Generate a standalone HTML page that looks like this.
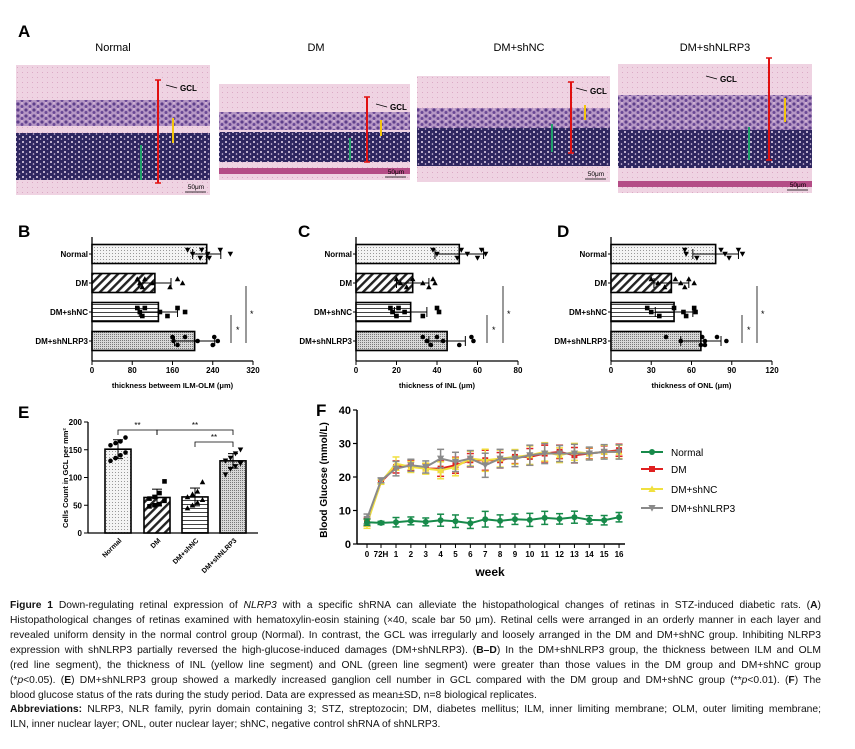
<!DOCTYPE html>
<html><head><meta charset="utf-8">
<style>
html,body{margin:0;padding:0;background:#fff;}
#wrap{position:relative;width:855px;height:749px;overflow:hidden;background:#fff;}
svg text{font-family:"Liberation Sans",sans-serif;}
.cap{position:absolute;left:10px;width:811px;font-family:"Liberation Sans",sans-serif;font-size:10.3px;line-height:15px;text-align:justify;text-align-last:justify;white-space:nowrap;color:#111;}
.cap.last{text-align-last:left;}
</style></head>
<body>
<div id="wrap">
<svg id="fig" width="855" height="749" viewBox="0 0 855 749" xmlns="http://www.w3.org/2000/svg">
<defs>
<pattern id="pDots" width="3" height="3" patternUnits="userSpaceOnUse"><rect width="3" height="3" fill="#f4f4f4"/><rect x="1" y="1" width="1" height="1" fill="#999"/></pattern>
<pattern id="pDense" width="2" height="2" patternUnits="userSpaceOnUse"><rect width="2" height="2" fill="#d8d8d8"/><rect width="1" height="1" fill="#777"/></pattern>
<pattern id="pDiag" width="6" height="6" patternUnits="userSpaceOnUse" patternTransform="rotate(45)"><rect width="6" height="6" fill="#fff"/><rect width="2.4" height="6" fill="#222"/></pattern>
<pattern id="pHor" width="4" height="4" patternUnits="userSpaceOnUse"><rect width="4" height="4" fill="#fff"/><rect y="0" width="4" height="1" fill="#444"/></pattern>
<pattern id="pNuc" width="7" height="5" patternUnits="userSpaceOnUse"><rect width="7" height="5" fill="#2e2660"/><circle cx="2" cy="2" r="1" fill="#e8d8ee"/><circle cx="5.5" cy="4" r="0.8" fill="#ddc8e6"/></pattern>
<pattern id="pInl" width="8" height="6" patternUnits="userSpaceOnUse"><rect width="8" height="6" fill="#b596c4"/><circle cx="2" cy="2" r="1.6" fill="#5e3f8a"/><circle cx="6" cy="4.5" r="1.5" fill="#6a4896"/><circle cx="6" cy="1" r="0.8" fill="#e7c9e0"/></pattern>
<pattern id="pPink" width="5" height="5" patternUnits="userSpaceOnUse"><rect width="5" height="5" fill="#efd3e2"/><rect x="2" y="2" width="1" height="1" fill="#dcaac6"/></pattern>
</defs>
<g id="panelA"></g>
<g id="panelB"></g>
<g id="panelC"></g>
<g id="panelD"></g>
<g id="panelE"></g>
<g id="panelF"></g>
</svg>
<div class="cap" style="top:598px"><b>Figure 1</b> Down-regulating retinal expression of <i>NLRP3</i> with a specific shRNA can alleviate the histopathological changes of retinas in STZ-induced diabetic rats. (<b>A</b>)</div>
<div class="cap" style="top:613px">Histopathological changes of retinas examined with hematoxylin-eosin staining (×40, scale bar 50 μm). Retinal cells were arranged in an orderly manner in each layer and</div>
<div class="cap" style="top:628px">revealed uniform density in the normal control group (Normal). In contrast, the GCL was irregularly and loosely arranged in the DM and DM+shNC group. Inhibiting NLRP3</div>
<div class="cap" style="top:643px">expression with shNLRP3 partially reversed the high-glucose-induced damages (DM+shNLRP3). (<b>B–D</b>) In the DM+shNLRP3 group, the thickness between ILM and OLM</div>
<div class="cap" style="top:658px">(red line segment), the thickness of INL (yellow line segment) and ONL (green line segment) were greater than those values in the DM group and DM+shNC group</div>
<div class="cap" style="top:673px">(*<i>p</i>&lt;0.05). (<b>E</b>) DM+shNLRP3 group showed a markedly increased ganglion cell number in GCL compared with the DM group and DM+shNC group (**<i>p</i>&lt;0.01). (<b>F</b>) The</div>
<div class="cap last" style="top:688px;height:12px;overflow:hidden">blood glucose status of the rats during the study period. Data are expressed as mean±SD, n=8 biological replicates.</div>
<div class="cap" style="top:702px"><b>Abbreviations:</b> NLRP3, NLR family, pyrin domain containing 3; STZ, streptozocin; DM, diabetes mellitus; ILM, inner limiting membrane; OLM, outer limiting membrane;</div>
<div class="cap last" style="top:717px">ILN, inner nuclear layer; ONL, outer nuclear layer; shNC, negative control shRNA of shNLRP3.</div>
</div>
<script>
// ---------- data ----------
const groups = ["Normal","DM","DM+shNC","DM+shNLRP3"];
const bMeans = [228,125,132,204];
const bSD = [28,32,38,40];
const bTicks = [0,80,160,240,320];
const bPoints = [[190,200,215,218,230,233,255,275],[90,95,100,105,120,155,170,180],[90,95,100,105,135,150,170,185],[160,162,170,185,210,240,243,250]];
const cMeans = [51,28,27,45];
const cSD = [12,8,8,9];
const cTicks = [0,20,40,60,80];
const cPoints = [[38,40,50,52,55,60,62,64],[20,22,25,28,33,36,38,39],[17,18,20,21,24,33,40,41],[33,35,37,40,43,51,57,58]];
const dMeans = [78,45,47,67];
const dSD = [17,13,14,15];
const dTicks = [0,30,60,90,120];
const dPoints = [[55,56,64,82,85,88,95,98],[30,35,40,48,52,55,58,62],[27,30,36,47,54,56,62,63],[41,52,67,68,70,70,79,86]];
const eMeans = [151,64,65,130];
const eSD = [17,15,16,13];
const eTicks = [0,50,100,150,200];
const ePoints = [[130,135,140,145,158,162,165,172],[48,50,52,58,62,65,72,93],[45,50,55,60,65,70,75,92],[105,115,120,125,130,135,143,150]];
const fCats = ["0","72H","1","2","3","4","5","6","7","8","9","10","11","12","13","14","15","16"];
const fTicks = [0,10,20,30,40];
const fNames = ["Normal","DM","DM+shNC","DM+shNLRP3"];
const fNormal = [6.5,6.3,6.5,6.9,6.6,7.1,6.8,6.2,7.4,6.9,7.4,7.2,7.8,7.5,8.0,7.2,7.1,8.0];
const fDM = [6.5,18.5,23,23.5,22.5,22.5,23.5,25,25,25,26,26,27,27.5,26.5,27,27.5,28];
const fShNC = [6,18.5,24,23,22.5,22,23,25.5,25,25.5,26,26.5,27.5,26.5,27.5,27,27.5,27.5];
const fShNLRP3 = [7.5,19,22.5,23.5,23,25.5,24.5,25.5,23.5,25.5,25.5,26.5,27,27,27,27,27.5,27.5];
const fErr = [1.2,0.6,1.8,1.5,1.5,2.3,2.4,2.0,3.0,2.3,2.0,2.5,2.5,2.0,2.3,1.6,1.8,1.8];

const NS="http://www.w3.org/2000/svg";
function mk(parent,tag,attrs,txt){const e=document.createElementNS(NS,tag);for(const k in attrs)e.setAttribute(k,attrs[k]);if(txt!==undefined)e.textContent=txt;parent.appendChild(e);return e;}
const fills=["url(#pDots)","url(#pDiag)","url(#pHor)","url(#pDense)"];

// ---------- Panel A ----------
(function(){
 const g=document.getElementById('panelA');
 let t=mk(g,'text',{x:18,y:37,'font-size':17,'font-weight':'bold'},'A');
 
 
 const tiles=[
  {x:16,y:65,w:194,h:130,lab:"Normal",lx:113,inl:[100,126],onl:[133,180],red:[80,183],rx:158,yel:[118,143],yx:173,grn:[145,180],gx:141,gcl:[180,88]},
  {x:219,y:84,w:191,h:96,lab:"DM",lx:316,inl:[112,130],onl:[132,162],red:[97,162],rx:367,yel:[120,136],yx:381,grn:[138,160],gx:350,gcl:[390,107]},
  {x:417,y:76,w:193,h:106,lab:"DM+shNC",lx:519,inl:[108,132],onl:[128,166],red:[82,153],rx:571,yel:[105,120],yx:585,grn:[124,152],gx:552,gcl:[590,91]},
  {x:618,y:64,w:194,h:129,lab:"DM+shNLRP3",lx:715,inl:[95,130],onl:[130,168],red:[58,160],rx:769,yel:[98,122],yx:785,grn:[127,160],gx:749,gcl:[720,79]}
 ];
 tiles.forEach((T,i)=>{
  const tg=mk(g,'g',{});
  
  
  let l=mk(tg,'text',{x:T.lx,y:51,'font-size':11,'text-anchor':'middle'},T.lab);
  
  
  mk(tg,'rect',{x:T.x,y:T.y,width:T.w,height:T.h,fill:'url(#pPink)'});
  mk(tg,'rect',{x:T.x,y:T.inl[0],width:T.w,height:T.inl[1]-T.inl[0],fill:'url(#pInl)'});
  mk(tg,'rect',{x:T.x,y:T.onl[0],width:T.w,height:T.onl[1]-T.onl[0],fill:'url(#pNuc)'});
  if(i===1||i===3){mk(tg,'rect',{x:T.x,y:T.y+T.h-12,width:T.w,height:6,fill:'#b44c86'});}
  mk(tg,'line',{x1:T.rx,x2:T.rx,y1:T.red[0],y2:T.red[1],stroke:'#e01010','stroke-width':2});
  mk(tg,'line',{x1:T.rx-3,x2:T.rx+3,y1:T.red[0],y2:T.red[0],stroke:'#e01010','stroke-width':1.5});
  mk(tg,'line',{x1:T.rx-3,x2:T.rx+3,y1:T.red[1],y2:T.red[1],stroke:'#e01010','stroke-width':1.5});
  mk(tg,'line',{x1:T.yx,x2:T.yx,y1:T.yel[0],y2:T.yel[1],stroke:'#f2c40c','stroke-width':2});
  mk(tg,'line',{x1:T.gx,x2:T.gx,y1:T.grn[0],y2:T.grn[1],stroke:'#1fa06a','stroke-width':2});
  mk(tg,'line',{x1:T.gcl[0]-14,x2:T.gcl[0]-3,y1:T.gcl[1]-3,y2:T.gcl[1],stroke:'#000','stroke-width':0.8});
  mk(tg,'text',{x:T.gcl[0],y:T.gcl[1]+3,'font-size':8,'font-weight':'bold'},'GCL');
  mk(tg,'line',{x1:T.x+T.w-25,x2:T.x+T.w-4,y1:T.y+T.h-3,y2:T.y+T.h-3,stroke:'#000','stroke-width':0.8});
  mk(tg,'text',{x:T.x+T.w-14,y:T.y+T.h-6,'font-size':6.5,'text-anchor':'middle','font-family':'Liberation Serif'},'50μm');
 });
})();

// ---------- Horizontal bar panels ----------
function hbar(id,letter,lx,ly,x0,x1,maxV,ticks,means,sds,pts,title,sigX,mk1){
 const g=document.getElementById(id);
 const X=v=>x0+(x1-x0)*v/maxV;
 const cy=[254,283,312,341];
 let t=mk(g,'text',{x:lx,y:ly,'font-size':17,'font-weight':'bold'},letter);
 
 
 const ax=mk(g,'g',{});
 
 
 mk(ax,'line',{x1:x0,x2:x0,y1:237,y2:361,stroke:'#000','stroke-width':1.3});
 mk(ax,'line',{x1:x0,x2:x1,y1:361,y2:361,stroke:'#000','stroke-width':1.3});
 ticks.forEach(v=>{mk(ax,'line',{x1:X(v),x2:X(v),y1:361,y2:365,stroke:'#000','stroke-width':1});
  mk(ax,'text',{x:X(v),y:373,'font-size':8,'font-weight':'bold','text-anchor':'middle'},v);});
 let at=mk(g,'text',{x:(x0+x1)/2,y:388,'font-size':7.5,'font-weight':'bold','text-anchor':'middle'},title);
 
 
 means.forEach((m,i)=>{
  mk(g,'line',{x1:x0-3,x2:x0,y1:cy[i],y2:cy[i],stroke:'#000'});
  let lb=mk(g,'text',{x:x0-4,y:cy[i]+3,'font-size':8,'font-weight':'bold','text-anchor':'end'},groups[i]);
  
  
  let r=mk(g,'rect',{x:x0,y:cy[i]-9.5,width:X(m)-x0,height:19,fill:fills[i],stroke:'#000','stroke-width':1.6});
  
  
  mk(g,'line',{x1:X(m-sds[i]),x2:X(m+sds[i]),y1:cy[i],y2:cy[i],stroke:'#000','stroke-width':1});
  [m-sds[i],m+sds[i]].forEach(v=>mk(g,'line',{x1:X(v),x2:X(v),y1:cy[i]-5,y2:cy[i]+5,stroke:'#000','stroke-width':1}));
  pts[i].forEach((v,j)=>{
   const py=cy[i]+((j%3)-1)*4;
   const p=marker(g,mk1[i],X(v),py,2.3,'#000');
   
   
  });
 });
 mk(g,'line',{x1:sigX[0],x2:sigX[0],y1:315,y2:343,stroke:'#000','stroke-width':0.8});
 mk(g,'text',{x:sigX[0]+5,y:333,'font-size':9},'*');
 mk(g,'line',{x1:sigX[1],x2:sigX[1],y1:286,y2:343,stroke:'#000','stroke-width':0.8});
 mk(g,'text',{x:sigX[1]+4,y:317,'font-size':9},'*');
}
function marker(g,type,x,y,r,col){
 if(type==='c')return mk(g,'circle',{cx:x,cy:y,r:r,fill:col});
 if(type==='s')return mk(g,'rect',{x:x-r,y:y-r,width:2*r,height:2*r,fill:col});
 if(type==='u')return mk(g,'polygon',{points:`${x},${y-r*1.2} ${x-r*1.2},${y+r} ${x+r*1.2},${y+r}`,fill:col});
 return mk(g,'polygon',{points:`${x},${y+r*1.2} ${x-r*1.2},${y-r} ${x+r*1.2},${y-r}`,fill:col});
}
const mks=['d','u','s','c'];
hbar('panelB','B',18,237,92,253,320,bTicks,bMeans,bSD,bPoints,'thickness betweem ILM-OLM (μm)',[231,246],mks);
hbar('panelC','C',298,237,356,518,80,cTicks,cMeans,cSD,cPoints,'thickness of INL (μm)',[487,503],mks);
hbar('panelD','D',557,237,611,772,120,dTicks,dMeans,dSD,dPoints,'thickness of ONL (μm)',[742,757],mks);

// ---------- Panel E ----------
(function(){
 const g=document.getElementById('panelE');
 const y0=533,y1=422,x0=88,xe=258;
 const Y=v=>y0-(y0-y1)*v/200;
 const cx=[118,157,195,233];
 let t=mk(g,'text',{x:18,y:418,'font-size':17,'font-weight':'bold'},'E');
 
 
 const ax=mk(g,'g',{});
 
 
 mk(ax,'line',{x1:x0,x2:x0,y1:y1,y2:y0,stroke:'#000','stroke-width':1.3});
 mk(ax,'line',{x1:x0,x2:xe,y1:y0,y2:y0,stroke:'#000','stroke-width':1.3});
 eTicks.forEach(v=>{mk(ax,'line',{x1:x0-4,x2:x0,y1:Y(v),y2:Y(v),stroke:'#000'});
  mk(ax,'text',{x:x0-6,y:Y(v)+3,'font-size':8,'font-weight':'bold','text-anchor':'end'},v);});
 let yt=mk(g,'text',{x:0,y:0,'font-size':7.5,'font-weight':'bold','text-anchor':'middle',transform:'translate(68,478) rotate(-90)'},'Cells Count in GCL per mm²');
 
 
 eMeans.forEach((m,i)=>{
  let r=mk(g,'rect',{x:cx[i]-13,y:Y(m),width:26,height:y0-Y(m),fill:fills[i],stroke:'#000','stroke-width':1.6});
  
  
  mk(g,'line',{x1:cx[i],x2:cx[i],y1:Y(m-eSD[i]),y2:Y(m+eSD[i]),stroke:'#000'});
  [m-eSD[i],m+eSD[i]].forEach(v=>mk(g,'line',{x1:cx[i]-5,x2:cx[i]+5,y1:Y(v),y2:Y(v),stroke:'#000'}));
  ePoints[i].forEach((v,j)=>{const p=marker(g,['c','s','u','d'][i],cx[i]+((j%4)-1.5)*5,Y(v),2.3,'#000');
   
   });
  let lb=mk(g,'text',{x:0,y:0,'font-size':7,'font-weight':'bold','text-anchor':'end',transform:`translate(${cx[i]+4},${y0+8}) rotate(-45)`},groups[i]);
  
  
 });
 const br=(a,b,y)=>{mk(g,'polyline',{points:`${cx[a]},${y+5} ${cx[a]},${y} ${cx[b]},${y} ${cx[b]},${y+5}`,fill:'none',stroke:'#000','stroke-width':0.8});
  mk(g,'text',{x:(cx[a]+cx[b])/2,y:y-2,'font-size':8,'text-anchor':'middle'},'**');};
 br(0,1,430);br(1,3,430);br(2,3,442);
})();

// ---------- Panel F ----------
(function(){
 const g=document.getElementById('panelF');
 const x0=357,y0=544,y1=410,xe=625;
 const Y=v=>y0-(y0-y1)*v/40;
 const X=i=>i<2?[367,381][i]:396+(i-2)*14.87;
 let t=mk(g,'text',{x:316,y:416,'font-size':17,'font-weight':'bold'},'F');
 
 
 const ax=mk(g,'g',{});
 
 
 mk(ax,'line',{x1:x0,x2:x0,y1:y1,y2:y0,stroke:'#000','stroke-width':1.5});
 mk(ax,'line',{x1:x0,x2:xe,y1:y0,y2:y0,stroke:'#000','stroke-width':1.5});
 fTicks.forEach(v=>{mk(ax,'line',{x1:x0-4,x2:x0,y1:Y(v),y2:Y(v),stroke:'#000','stroke-width':1.2});
  mk(ax,'text',{x:x0-6,y:Y(v)+4,'font-size':11,'font-weight':'bold','text-anchor':'end'},v);});
 fCats.forEach((c,i)=>{mk(ax,'line',{x1:X(i),x2:X(i),y1:y0,y2:y0+4,stroke:'#000'});
  mk(ax,'text',{x:X(i),y:y0+13,'font-size':8,'font-weight':'bold','text-anchor':'middle'},c);});
 let yt=mk(g,'text',{x:0,y:0,'font-size':10,'font-weight':'bold','text-anchor':'middle',transform:'translate(327,480) rotate(-90)'},'Blood Glucose (mmol/L)');
 
 
 let xt=mk(g,'text',{x:490,y:576,'font-size':12,'font-weight':'bold','text-anchor':'middle'},'week');
 
 
 const series=[fDM,fShNC,fShNLRP3,fNormal];
 const cols=['#e02020','#f0e040','#8a8a8a','#178a4a'];
 const mt=['s','u','d','c'];
 const nm=['DM','DM+shNC','DM+shNLRP3','Normal'];
 series.forEach((s,k)=>{
  const sg=mk(g,'g',{});
  
  
  s.forEach((v,i)=>{const e=fErr[i]*(k===3?0.6:1)*(1+k*0.1);
   mk(sg,'line',{x1:X(i),x2:X(i),y1:Y(v-e),y2:Y(v+e),stroke:cols[k],'stroke-width':1.5});
   [v-e,v+e].forEach(w=>mk(sg,'line',{x1:X(i)-3.5,x2:X(i)+3.5,y1:Y(w),y2:Y(w),stroke:cols[k],'stroke-width':1.5}));});
  mk(sg,'polyline',{points:s.map((v,i)=>X(i)+','+Y(v)).join(' '),fill:'none',stroke:cols[k],'stroke-width':2});
  s.forEach((v,i)=>{const p=marker(sg,mt[k],X(i),Y(v),3,cols[k]);
   
   });
 });
 const ly=[452,469,489,508],lc=['#178a4a','#e02020','#f0e040','#8a8a8a'],lm=['c','s','u','d'];
 fNames.forEach((n,i)=>{
  const lg=mk(g,'g',{});
  
  
  mk(lg,'line',{x1:641,x2:663,y1:ly[i],y2:ly[i],stroke:lc[i],'stroke-width':2});
  marker(lg,lm[i],652,ly[i],3,lc[i]);
  mk(lg,'text',{x:671,y:ly[i]+4,'font-size':10},n);
 });
})();
</script>
</body></html>
